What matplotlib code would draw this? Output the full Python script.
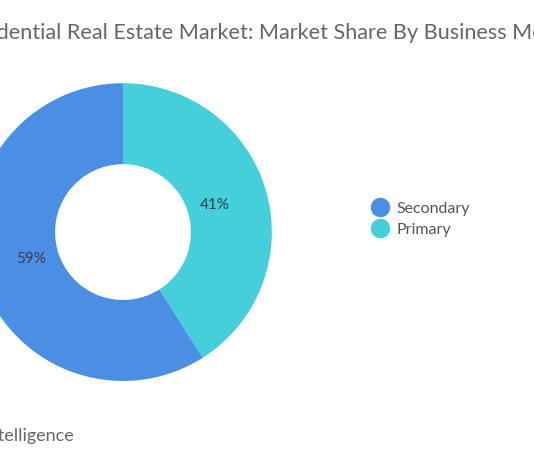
import matplotlib.pyplot as plt
from matplotlib.lines import Line2D

# market share by business model
labels = ["Primary", "Secondary"]
shares = [41, 59]
colors = ["#45CFDA", "#4A8FE3"]
legend_order = ["Secondary", "Primary"]

plt.rcParams['font.family'] = ['Lato', 'DejaVu Sans']

fig = plt.figure(figsize=(5.34, 4.62), dpi=100)

# donut axes, pushed partly off the left edge like the reference
ax = fig.add_axes([-0.0506, 0.1732, 0.5618, 0.649])
wedges, texts, autotexts = ax.pie(
    shares, colors=colors, startangle=90, counterclock=False,
    radius=0.993, autopct='%.0f%%', pctdistance=0.64,
    wedgeprops=dict(width=0.54, edgecolor='none'),
    textprops=dict(color='#33404d', fontsize=11))
ax.set_xlim(-1, 1)
ax.set_ylim(-1, 1)
ax.set_aspect('equal')
ax.axis('off')

handles = []
for name in legend_order:
    c = colors[labels.index(name)]
    handles.append(Line2D([], [], marker='o', linestyle='none', markersize=13,
                          markerfacecolor=c, markeredgecolor=c, label=name))
fig.legend(handles=handles, loc='upper left', bbox_to_anchor=(0.655, 0.595),
           frameon=False, fontsize=11.5, handletextpad=0.0, labelspacing=0.45,
           labelcolor='#555555')

fig.text(-0.08, 0.928, "Residential Real Estate Market: Market Share By Business Model",
         fontsize=15.6, color='#666666', ha='left', va='center')
fig.text(-0.154, 0.057, "Mordor Intelligence", fontsize=13, color='#666666',
         ha='left', va='center')

fig.savefig('out.png', dpi=100)
